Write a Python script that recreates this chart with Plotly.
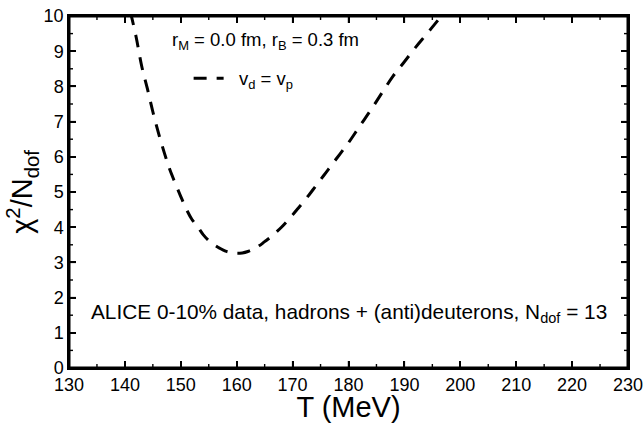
import plotly.graph_objects as go

T_MeV = [141, 142, 143, 144, 145, 146, 147, 148, 149, 150, 151, 152, 153, 154, 155,
         156, 157, 158, 159, 160, 161, 162, 163, 164, 165, 166, 167, 168, 169, 170,
         171, 172, 173, 174, 175, 176, 177, 178, 179, 180, 182, 184, 186, 188, 190,
         192, 194, 196, 197]
chi2_ndof = [10.11, 9.41, 8.58, 7.95, 7.28, 6.68, 6.14, 5.65, 5.25, 4.87, 4.51, 4.22, 4.02, 3.79, 3.62,
             3.50, 3.40, 3.32, 3.28, 3.26, 3.27, 3.31, 3.38, 3.47, 3.59, 3.71, 3.85, 4.00, 4.17, 4.35,
             4.54, 4.73, 4.93, 5.14, 5.35, 5.56, 5.77, 5.98, 6.19, 6.40, 6.87, 7.33, 7.82, 8.30, 8.70,
             9.11, 9.49, 9.88, 10.07]

x_ticks = [130, 140, 150, 160, 170, 180, 190, 200, 210, 220, 230]
y_ticks = [0, 1, 2, 3, 4, 5, 6, 7, 8, 9, 10]
x_minor = [135, 145, 155, 165, 175, 185, 195, 205, 215, 225]
y_minor = [0.5, 1.5, 2.5, 3.5, 4.5, 5.5, 6.5, 7.5, 8.5, 9.5]

FONT = "Liberation Sans, Arial, sans-serif"

X0, X1 = x_ticks[0], x_ticks[-1]
Y0, Y1 = y_ticks[0], y_ticks[-1]
# tick lengths expressed in axis units (plot area is about 559 x 352 px)
PX_X = (X1 - X0) / 559.0
PX_Y = (Y1 - Y0) / 352.0

fig = go.Figure()

# frame (all four sides)
fig.add_trace(go.Scatter(
    x=[X0, X1, X1, X0, X0], y=[Y0, Y0, Y1, Y1, Y0], mode="lines",
    line=dict(color="black", width=3), showlegend=False, hoverinfo="skip",
))

# inside ticks on all four sides
tx, ty = [], []
for v in x_ticks + x_minor:
    h = (7 if v in x_ticks else 4) * PX_Y
    tx += [v, v, None, v, v, None]
    ty += [Y0, Y0 + h, None, Y1, Y1 - h, None]
for v in y_ticks + y_minor:
    w = (7 if v in y_ticks else 4) * PX_X
    tx += [X0, X0 + w, None, X1, X1 - w, None]
    ty += [v, v, None, v, v, None]
fig.add_trace(go.Scatter(
    x=tx, y=ty, mode="lines", line=dict(color="black", width=1.4),
    showlegend=False, hoverinfo="skip", connectgaps=False,
))

fig.add_trace(go.Scatter(
    x=T_MeV, y=chi2_ndof, mode="lines",
    line=dict(color="black", width=3, dash="13px,10px", shape="spline"),
    name="&nbsp;&nbsp;v<sub>d</sub> = v<sub>p</sub>",
))

axis_common = dict(
    showline=True, linecolor="black", linewidth=1.5, mirror="ticks",
    ticks="inside", ticklen=7, tickwidth=1.5, tickcolor="black",
    showgrid=False, zeroline=False, automargin=False,
    tickfont=dict(family=FONT, size=18, color="black"),
    ticklabeloverflow="allow",
)

fig.update_xaxes(
    range=[X0, X1], tickmode="array", tickvals=x_ticks, ticktext=[str(v) for v in x_ticks],
    title=dict(text="T (MeV)", font=dict(family=FONT, size=29, color="black"), standoff=4),
    **axis_common,
)
fig.update_yaxes(
    range=[Y0, Y1], tickmode="array", tickvals=y_ticks, ticktext=[str(v) for v in y_ticks],
    title=dict(text="χ<sup>2</sup>/N<sub>dof</sub>", font=dict(family=FONT, size=29, color="black"), standoff=2),
    **axis_common,
)

fig.add_annotation(
    x=165.1, y=9.3, xref="x", yref="y", showarrow=False,
    text="r<sub>M</sub> = 0.0 fm, r<sub>B</sub> = 0.3 fm",
    font=dict(family=FONT, size=18.5, color="black"),
)
fig.add_annotation(
    x=0.5, y=1.55, xref="paper", yref="y", showarrow=False,
    text="ALICE 0-10% data, hadrons + (anti)deuterons, N<sub>dof</sub> = 13",
    font=dict(family=FONT, size=20.8, color="black"),
)

fig.update_layout(
    width=644, height=423,
    margin=dict(l=69, r=16, t=16, b=55, autoexpand=False),
    paper_bgcolor="white", plot_bgcolor="white",
    showlegend=True,
    legend=dict(x=0.214, y=0.822, xanchor="left", yanchor="middle",
                bgcolor="rgba(0,0,0,0)", font=dict(family=FONT, size=18.5, color="black")),
    font=dict(family=FONT, color="black"),
)

fig.write_html("out.html", config={"displayModeBar": False},
               post_script="document.body.style.margin='0px';")
